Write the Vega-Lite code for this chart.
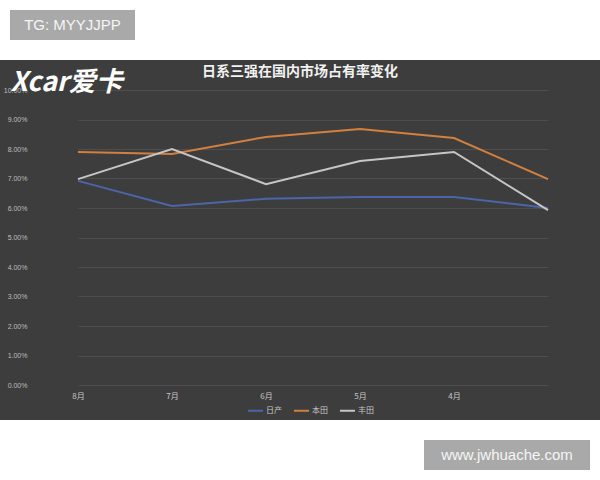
{
  "$schema": "https://vega.github.io/schema/vega-lite/v6.json",
  "background": "white",
  "padding": {"top": 10, "left": 0, "right": 0, "bottom": 0},
  "config": {"view": {"stroke": null}, "font": "Noto Sans CJK SC"},
  "spacing": 20,
  "vconcat": [
    {
      "spacing": 0,
      "hconcat": [
        {"width": 10, "height": 30, "data": {"values": [{}]}, "mark": {"type": "text", "text": ""}},
        {
          "width": 125, "height": 30,
          "view": {"fill": "#a9a9a9", "stroke": null},
          "data": {"values": [{"t": "TG: MYYJJPP"}]},
          "mark": {"type": "text", "font": "Liberation Sans", "fontSize": 15, "color": "#f5f5f5"},
          "encoding": {"text": {"field": "t"}}
        }
      ]
    },
    {
      "width": 600, "height": 360,
      "view": {"fill": "#3d3d3d", "stroke": null},
      "title": {"text": "日系三强在国内市场占有率变化", "color": "#f2f2f2", "fontSize": 14, "font": "Noto Sans CJK SC", "fontWeight": "bold", "anchor": "middle", "offset": -19},
      "data": {"values": [
        {"month": "8月", "brand": "日产", "share": 0.0692},
        {"month": "7月", "brand": "日产", "share": 0.0607},
        {"month": "6月", "brand": "日产", "share": 0.0631},
        {"month": "5月", "brand": "日产", "share": 0.0637},
        {"month": "4月", "brand": "日产", "share": 0.0637},
        {"month": "3月", "brand": "日产", "share": 0.0600},
        {"month": "8月", "brand": "本田", "share": 0.0790},
        {"month": "7月", "brand": "本田", "share": 0.0783},
        {"month": "6月", "brand": "本田", "share": 0.0841},
        {"month": "5月", "brand": "本田", "share": 0.0868},
        {"month": "4月", "brand": "本田", "share": 0.0837},
        {"month": "3月", "brand": "本田", "share": 0.0698},
        {"month": "8月", "brand": "丰田", "share": 0.0698},
        {"month": "7月", "brand": "丰田", "share": 0.0800},
        {"month": "6月", "brand": "丰田", "share": 0.0681},
        {"month": "5月", "brand": "丰田", "share": 0.0759},
        {"month": "4月", "brand": "丰田", "share": 0.0790},
        {"month": "3月", "brand": "丰田", "share": 0.0593}
      ]},
      "mark": {"type": "line", "strokeWidth": 2},
      "encoding": {
        "x": {
          "field": "month", "type": "ordinal",
          "sort": ["8月", "7月", "6月", "5月", "4月", "3月"],
          "scale": {"type": "point", "range": [78, 548], "padding": 0},
          "axis": {"title": null, "orient": "bottom", "offset": -35, "domain": false, "ticks": false, "tickSize": 0, "grid": false, "labelColor": "#c8c8c8", "labelFontSize": 8, "labelPadding": 7, "labelAngle": 0, "labelExpr": "datum.label == '3月' ? '' : datum.label"}
        },
        "y": {
          "field": "share", "type": "quantitative",
          "scale": {"domain": [0, 0.1], "range": [325, 30], "nice": false, "zero": true},
          "axis": {
            "values": [0, 0.01, 0.02, 0.03, 0.04, 0.05, 0.06, 0.07, 0.08, 0.09, 0.1],
            "format": ".2%", "offset": -29, "domain": false, "ticks": false, "tickSize": 0,
            "labelPadding": 2, "labelFontSize": 7, "labelColor": "#bdbdbd", "labelFont": "Liberation Sans",
            "grid": true, "gridColor": "#5a5a5a", "gridOpacity": 0.6, "gridWidth": 1,
            "title": "Xcar爱卡", "titleAngle": 0, "titleAlign": "left", "titleBaseline": "middle",
            "titleX": -19, "titleY": 22, "titleFontSize": 27, "titleFontWeight": "bold", "titleFontStyle": "italic", "titleColor": "#ffffff", "titleFont": "Noto Sans CJK SC"
          }
        },
        "color": {
          "field": "brand", "type": "nominal",
          "scale": {"domain": ["日产", "本田", "丰田"], "range": ["#4c64a8", "#d2803f", "#c6c6c6"]},
          "legend": {"title": null, "orient": "none", "legendX": 247, "legendY": 392, "direction": "horizontal", "symbolType": "stroke", "symbolSize": 225, "symbolStrokeWidth": 2, "labelColor": "#c8c8c8", "labelFontSize": 8, "labelOffset": 2, "columnPadding": 8}
        }
      }
    },
    {
      "spacing": 0,
      "hconcat": [
        {"width": 424, "height": 30, "data": {"values": [{}]}, "mark": {"type": "text", "text": ""}},
        {
          "width": 166, "height": 30,
          "view": {"fill": "#a9a9a9", "stroke": null},
          "data": {"values": [{"t": "www.jwhuache.com"}]},
          "mark": {"type": "text", "font": "Liberation Sans", "fontSize": 15, "color": "#f5f5f5"},
          "encoding": {"text": {"field": "t"}}
        }
      ]
    }
  ]
}
